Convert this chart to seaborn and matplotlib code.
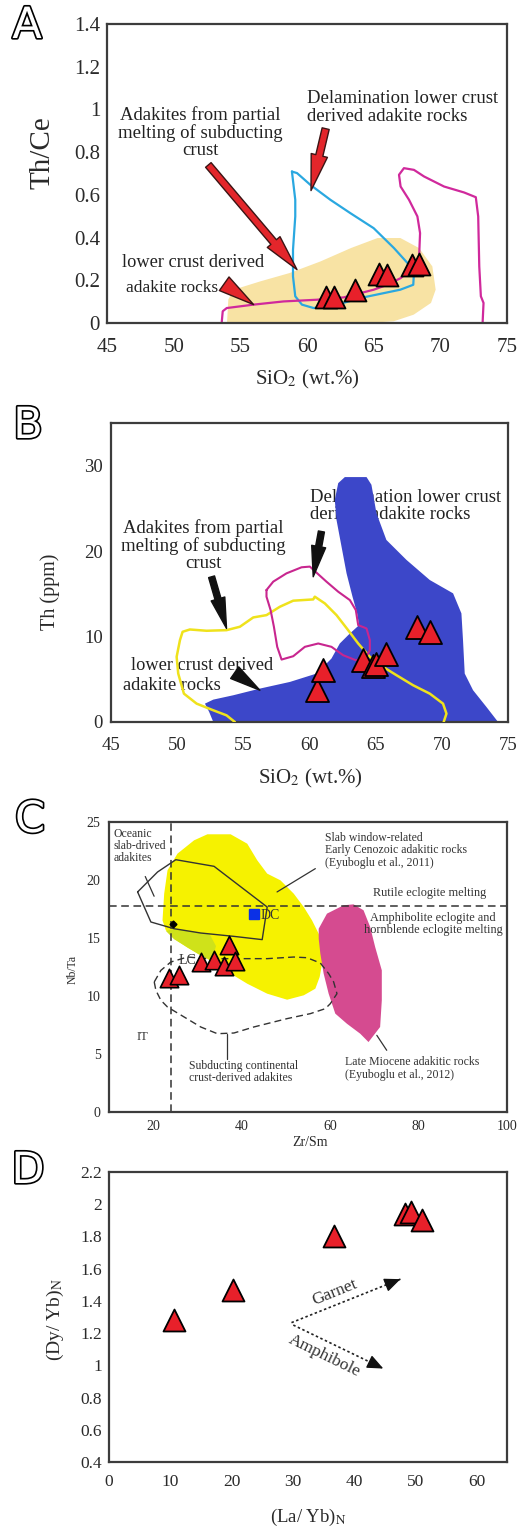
import matplotlib
matplotlib.use("Agg")
import matplotlib.pyplot as plt
import seaborn as sns
from matplotlib import patheffects
from matplotlib.ticker import FuncFormatter, FixedLocator

# ---------------- data ----------------
# A: Th/Ce vs SiO2
a_sio2 = [61.4, 62.0, 63.6, 65.4, 66.0, 67.9, 68.4]
a_thce = [0.122, 0.12, 0.153, 0.23, 0.225, 0.273, 0.274]
a_tan_field = [(54.0, 0.0), (54.1, 0.11), (54.5, 0.156), (56.5, 0.195), (58.7, 0.234),
               (61.0, 0.288), (63.3, 0.351), (65.3, 0.398), (67.0, 0.398), (68.4, 0.351),
               (69.4, 0.265), (69.65, 0.156), (69.3, 0.094), (68.0, 0.039), (66.5, 0.008),
               (64.5, 0.0)]
a_blue_outline = [(58.87, 0.709), (59.12, 0.577), (59.12, 0.499), (58.95, 0.343), (58.95, 0.218),
                  (59.12, 0.125), (59.62, 0.086), (60.5, 0.07), (62.0, 0.081), (64.0, 0.117),
                  (65.77, 0.14), (67.0, 0.156), (67.97, 0.179), (68.02, 0.234), (67.65, 0.273),
                  (66.52, 0.351), (65.0, 0.444), (63.26, 0.514), (61.75, 0.577), (60.25, 0.647),
                  (59.25, 0.702), (58.87, 0.709)]
a_magenta_outline = [(53.6, 0.0), (53.68, 0.055), (53.98, 0.07), (55.99, 0.086), (58.24, 0.101),
                     (60.75, 0.109), (62.76, 0.12), (64.01, 0.14), (65.01, 0.156), (66.02, 0.179),
                     (67.02, 0.21), (67.77, 0.249), (68.4, 0.296), (68.48, 0.421), (68.28, 0.499),
                     (67.65, 0.577), (67.02, 0.639), (66.9, 0.694), (67.27, 0.725), (68.02, 0.717),
                     (68.78, 0.686), (70.28, 0.639), (71.79, 0.611), (72.66, 0.589), (72.84, 0.499),
                     (72.92, 0.265), (73.04, 0.125), (73.24, 0.094), (73.17, 0.0)]
a_arrows = [((61.4, 0.91), (60.3, 0.62)), ((52.6, 0.74), (59.25, 0.25)), ((54.1, 0.17), (56.0, 0.086))]

# B: Th vs SiO2
b_sio2 = [60.6, 61.0, 64.05, 64.8, 65.06, 65.8, 68.1, 69.1]
b_th = [3.7, 6.1, 7.27, 6.5, 6.77, 7.98, 11.07, 10.56]
b_blue_field = [(52.1, 2.15), (52.73, 2.62), (54.24, 3.13), (56.25, 3.91), (58.52, 4.69),
                (60.53, 5.67), (61.66, 7.43), (62.29, 9.19), (63.05, 10.36), (63.75, 11.34),
                (63.6, 12.71), (63.25, 14.67), (62.8, 17.4), (62.42, 20.53), (62.04, 23.66),
                (61.91, 26.0), (62.17, 27.96), (62.67, 28.67), (64.31, 28.67), (64.68, 27.77),
                (65.06, 24.44), (65.81, 21.31), (67.33, 18.97), (69.09, 16.62), (70.85, 15.06),
                (71.48, 12.71), (71.6, 9.58), (71.73, 5.67), (72.36, 3.72), (73.37, 1.76),
                (74.25, 0.0), (52.73, 0.0), (52.42, 1.17)]
b_yellow_outline = [(54.36, 0.0), (53.73, 0.78), (52.73, 1.37), (51.47, 2.15), (50.51, 3.32),
                    (50.08, 5.67), (49.96, 7.63), (50.21, 9.58), (50.41, 10.56), (50.96, 10.83),
                    (52.22, 10.68), (53.73, 10.75), (54.74, 11.15), (55.75, 12.24), (56.75, 12.51),
                    (57.76, 13.49), (58.77, 14.2), (60.28, 14.35), (60.4, 14.67), (61.16, 13.88),
                    (62.04, 12.51), (62.92, 10.75), (63.68, 9.19), (64.56, 7.63), (65.56, 6.45),
                    (66.57, 5.48), (67.83, 4.3), (69.09, 3.32), (70.09, 2.15), (70.35, 0.98),
                    (70.14, 0.0)]
b_magenta_outline = [(56.75, 15.45), (57.26, 16.43), (58.26, 17.4), (59.4, 18.11), (60.03, 18.19),
                     (60.53, 17.48), (61.28, 16.43), (62.17, 15.25), (63.05, 14.27), (63.5, 13.1),
                     (63.68, 11.34), (64.31, 10.95), (64.56, 9.58), (64.56, 8.41), (64.26, 7.55),
                     (63.5, 7.23), (62.54, 7.82), (61.66, 8.8), (60.66, 9.19), (59.65, 8.8),
                     (58.77, 7.7), (57.89, 7.31), (57.56, 8.8), (57.31, 11.15), (57.06, 13.1),
                     (56.75, 14.67), (56.75, 15.45)]
b_arrows = [((60.9, 22.3), (60.28, 17.0)), ((52.6, 17.0), (53.73, 10.95)), ((54.6, 5.5), (56.25, 3.72))]

# C: Nb/Ta vs Zr/Sm
c_zrsm = [23.6, 25.9, 30.7, 33.8, 36.0, 37.1, 38.6]
c_nbta = [11.58, 11.8, 12.93, 13.07, 12.6, 14.37, 13.0]
c_yellow_field = [(22.1, 16.52), (22.48, 18.82), (23.23, 20.83), (25.48, 22.27), (29.24, 23.42),
                  (32.25, 23.94), (37.51, 23.94), (41.26, 23.13), (43.52, 21.7), (45.77, 20.55),
                  (48.78, 19.97), (51.78, 18.82), (54.04, 17.67), (55.91, 16.52), (57.42, 15.37),
                  (58.39, 14.08), (58.17, 12.79), (57.64, 11.64), (56.66, 10.63), (54.04, 10.06),
                  (50.28, 9.68), (45.77, 10.2), (41.26, 11.06), (37.51, 11.93), (34.5, 12.73),
                  (30.74, 13.51), (27.74, 14.17), (24.73, 14.94), (22.86, 15.66)]
c_green_patch = [(22.9, 15.6), (24.7, 14.9), (27.7, 14.2), (30.7, 13.5), (33.2, 13.1),
                 (34.2, 14.3), (32.8, 15.3), (30.7, 15.45), (24.7, 15.8)]
c_magenta_field = [(57.42, 15.8), (59.29, 17.1), (63.05, 17.82), (65.3, 17.9), (67.56, 17.39),
                   (69.06, 15.95), (70.19, 14.22), (71.69, 12.21), (71.69, 9.63), (71.31, 7.33),
                   (68.68, 6.03), (66.81, 6.75), (63.8, 7.61), (61.17, 8.48), (59.67, 10.2),
                   (58.54, 11.93), (57.79, 13.65), (57.42, 14.94)]
c_oceanic_outline = [(16.47, 18.97), (20.98, 20.69), (25.11, 21.75), (33.75, 21.18), (45.77, 17.67),
                     (44.64, 14.86), (38.26, 15.14), (30.74, 15.43), (24.73, 15.8), (19.47, 16.38),
                     (16.47, 18.97)]
c_continental_outline = [(20.23, 11.21), (21.73, 12.21), (23.98, 12.93), (27.74, 13.36), (32.25, 13.22),
                         (38.26, 13.22), (45.77, 13.22), (51.78, 13.36), (54.79, 13.3), (57.79, 12.84),
                         (59.67, 11.93), (60.8, 11.21), (61.55, 10.2), (60.05, 9.34), (58.92, 8.91),
                         (55.54, 8.48), (50.28, 8.05), (42.76, 7.33), (38.26, 6.81), (34.5, 6.75),
                         (30.74, 7.33), (26.99, 8.19), (23.23, 9.05), (21.73, 9.63), (20.6, 10.49),
                         (20.23, 11.21)]
c_pointers = [((18.2, 20.3), (20.2, 18.6)), ((48.0, 18.97), (56.66, 20.98)),
              ((36.75, 6.75), (36.75, 4.6)), ((70.56, 6.61), (72.8, 5.32))]
c_rutile_line = 17.8
c_it_line = 24.1
c_dc_point = (42.8, 17.1)
c_black_point = (24.4, 16.2)

# D: (Dy/Yb)N vs (La/Yb)N
d_layb = [10.6, 20.3, 36.8, 48.4, 49.3, 51.1]
d_dyyb = [1.28, 1.47, 1.80, 1.94, 1.95, 1.90]
d_garnet_vector = ((29.8, 1.265), (47.6, 1.535))
d_amphibole_vector = ((30.1, 1.25), (44.8, 0.98))

# ---------------- style ----------------
sns.set_theme(style="white")
plt.rcParams['font.family'] = ['Liberation Serif', 'DejaVu Serif']
plt.rcParams['mathtext.fontset'] = 'stix'

W, H = 520, 1526
fig = plt.figure(figsize=(W / 100, H / 100), dpi=100)
fig.patch.set_facecolor('white')

TRI = '#e8202a'
INK = '#2a2a2a'


def axes_px(left, top, right, bottom):
    return fig.add_axes([left / W, 1 - bottom / H, (right - left) / W, (bottom - top) / H])


def fig_text(px, py, s, **kw):
    fig.text(px / W, 1 - py / H, s, ha='center', va='center', **kw)


def style_axes(ax, size, pad_x, pad_y):
    for sp in ax.spines.values():
        sp.set_color('#3c3c3c')
        sp.set_linewidth(1.6)
    ax.tick_params(direction='in', length=5, width=1.2, color='#3c3c3c',
                   labelsize=size, labelcolor=INK, top=False, right=False)
    ax.tick_params(axis='x', pad=pad_x)
    ax.tick_params(axis='y', pad=pad_y)
    ax.tick_params(which='minor', direction='in', length=5, width=1.2, color='#3c3c3c')
    ax.yaxis.set_major_formatter(FuncFormatter(lambda v, p: f"{v:g}"))
    ax.set_xlabel('')
    ax.set_ylabel('')


def xy(points):
    return [p[0] for p in points], [p[1] for p in points]


def fat_arrow(ax, tail, tip, fc, ec, scale):
    ax.annotate("", xy=tip, xytext=tail, zorder=4,
                arrowprops=dict(arrowstyle="simple,head_length=1.3,head_width=0.6,tail_width=0.26",
                                fc=fc, ec=ec, lw=1.0, mutation_scale=scale,
                                shrinkA=0, shrinkB=0))


def panel_letter(px, py, s):
    fig.text(px / W, 1 - py / H, s, ha='center', va='center', fontsize=31,
             family='DejaVu Sans', color='white',
             path_effects=[patheffects.withStroke(linewidth=2.4, foreground='black')])


# ---------------- A ----------------
ax = axes_px(107, 24, 507, 323)
x, y = xy(a_tan_field)
ax.fill(x, y, color='#f8e3a4', lw=0, zorder=1)
x, y = xy(a_blue_outline)
ax.plot(x, y, color='#2aa8e0', lw=1.6, zorder=2)
x, y = xy(a_magenta_outline)
ax.plot(x, y, color='#d0299c', lw=1.6, zorder=2)
for tail, tip in a_arrows:
    fat_arrow(ax, tail, tip, '#e3262b', '#3a1414', 20)
sns.scatterplot(x=a_sio2, y=a_thce, marker='^', s=250, color=TRI, edgecolor='black',
                linewidth=1.3, ax=ax, zorder=5)
ax.text(60.0, 1.01, "Delamination lower crust\nderived adakite rocks", fontsize=13.5,
        ha='left', va='center', color='#222', linespacing=1.05)
ax.text(52.0, 0.89, "Adakites from partial\nmelting of subducting\ncrust", fontsize=13.5,
        ha='center', va='center', color='#222', linespacing=1.0)
ax.text(46.1, 0.281, "lower crust derived", fontsize=13.2, ha='left', va='center', color='#222')
ax.text(46.4, 0.164, "adakite rocks", fontsize=12.5, ha='left', va='center', color='#222')
ax.set_xlim(45, 75)
ax.set_ylim(0, 1.4)
ax.set_xticks(range(45, 76, 5))
ax.set_yticks([0, 0.2, 0.4, 0.6, 0.8, 1.0, 1.2, 1.4])
style_axes(ax, 15, 11, 5)
fig_text(42, 153, "Th/Ce", fontsize=21, rotation=90, color=INK)
fig_text(307, 379, "SiO$_2$ (wt.%)", fontsize=15, color=INK)
panel_letter(27, 26, "A")

# ---------------- B ----------------
ax = axes_px(111, 423, 508, 722)
ax.text(60.03, 25.3, "Delamination lower crust\nderived adakite rocks", fontsize=13.5,
        ha='left', va='center', color='#222', linespacing=1.05, zorder=1)
ax.text(52.0, 20.7, "Adakites from partial\nmelting of subducting\ncrust", fontsize=13.5,
        ha='center', va='center', color='#222', linespacing=1.0, zorder=1)
ax.text(51.85, 6.65, "lower crust derived", fontsize=13.2, ha='center', va='center',
        color='#222', zorder=1)
ax.text(49.6, 4.3, "adakite rocks", fontsize=13.2, ha='center', va='center', color='#222', zorder=1)
x, y = xy(b_blue_field)
ax.fill(x, y, color='#3c47c9', lw=0, zorder=2)
x, y = xy(b_yellow_outline)
ax.plot(x, y, color='#efe21c', lw=1.8, zorder=3)
x, y = xy(b_magenta_outline)
ax.plot(x, y, color='#c8268f', lw=1.5, zorder=3)
for tail, tip in b_arrows:
    fat_arrow(ax, tail, tip, '#111111', '#111111', 17)
sns.scatterplot(x=b_sio2, y=b_th, marker='^', s=275, color=TRI, edgecolor='black',
                linewidth=1.3, ax=ax, zorder=5)
ax.set_xlim(45, 75)
ax.set_ylim(0, 35)
ax.set_xticks(range(45, 76, 5))
ax.yaxis.set_major_locator(FixedLocator([0, 10, 20, 30]))
ax.yaxis.set_minor_locator(FixedLocator([5, 15, 25]))
style_axes(ax, 13.5, 11, 6)
fig_text(50, 592, "Th (ppm)", fontsize=14.5, rotation=90, color=INK)
fig_text(310, 778, "SiO$_2$ (wt.%)", fontsize=15, color=INK)
panel_letter(28, 426, "B")

# ---------------- C ----------------
ax = axes_px(109, 822, 507, 1112)
x, y = xy(c_yellow_field)
ax.fill(x, y, color='#f6f200', lw=0, zorder=1)
x, y = xy(c_green_patch)
ax.fill(x, y, color='#cfe21a', lw=0, zorder=1)
x, y = xy(c_magenta_field)
ax.fill(x, y, color='#d54b90', lw=0, zorder=1)
x, y = xy(c_oceanic_outline)
ax.plot(x, y, color='#333', lw=1.0, zorder=2)
x, y = xy(c_continental_outline)
ax.plot(x, y, color='#333', lw=1.0, ls=(0, (5, 3)), zorder=2)
for (x0, y0), (x1, y1) in c_pointers:
    ax.plot([x0, x1], [y0, y1], color='#333', lw=0.9, zorder=2)
ax.axhline(c_rutile_line, color='#333', lw=1.1, ls=(0, (5, 3)), zorder=2)
ax.axvline(c_it_line, color='#333', lw=1.1, ls=(0, (5, 3)), zorder=2)
ax.plot(*c_dc_point, marker='s', ms=7, color='#0b30e6', zorder=3)
ax.plot(*c_black_point, marker='D', ms=3.5, color='black', zorder=3)
ax.text(44.3, 16.9, "DC", fontsize=10, ha='left', va='center', color='#333')
ax.text(25.8, 13.1, "LC", fontsize=10, ha='left', va='center', color='#333')
sns.scatterplot(x=c_zrsm, y=c_nbta, marker='^', s=175, color=TRI, edgecolor='black',
                linewidth=1.2, ax=ax, zorder=5)
ax.text(11.1, 22.9, "Oceanic\nslab-drived\nadakites", fontsize=8.5, ha='left', va='center',
        color='#333', linespacing=1.0)
ax.text(58.9, 22.55, "Slab window-related\nEarly Cenozoic adakitic rocks\n(Eyuboglu et al., 2011)",
        fontsize=8.5, ha='left', va='center', color='#333', linespacing=1.05)
ax.text(69.8, 18.85, "Rutile eclogite melting", fontsize=8.8, ha='left', va='center', color='#333')
ax.text(83.3, 16.2, "Amphibolite eclogite and\nhornblende eclogite melting", fontsize=8.8,
        ha='center', va='center', color='#333', linespacing=1.0)
ax.text(17.6, 6.45, "IT", fontsize=9, ha='center', va='center', color='#333')
ax.text(28.1, 3.45, "Subducting continental\ncrust-derived adakites", fontsize=8.5,
        ha='left', va='center', color='#333', linespacing=1.05)
ax.text(63.4, 3.75, "Late Miocene adakitic rocks\n(Eyuboglu et al., 2012)", fontsize=8.5,
        ha='left', va='center', color='#333', linespacing=1.05)
ax.set_xlim(10, 100)
ax.set_ylim(0, 25)
ax.set_xticks([20, 40, 60, 80, 100])
ax.set_yticks([0, 5, 10, 15, 20, 25])
style_axes(ax, 10, 6, 6)
fig_text(73, 969, "Nb/Ta", fontsize=8.5, rotation=90, color=INK)
fig_text(310, 1142, "Zr/Sm", fontsize=10, color=INK)
panel_letter(30, 820, "C")

# ---------------- D ----------------
ax = axes_px(109, 1172, 507, 1462)
sns.scatterplot(x=d_layb, y=d_dyyb, marker='^', s=250, color=TRI, edgecolor='black',
                linewidth=1.3, ax=ax, zorder=5)
for (x0, y0), (x1, y1) in (d_garnet_vector, d_amphibole_vector):
    ax.plot([x0, x1], [y0, y1], color='#222', lw=1.2, ls=(0, (1.5, 1.5)), zorder=3)
    ax.annotate("", xy=(x1, y1), xytext=(x1 - 0.08 * (x1 - x0), y1 - 0.08 * (y1 - y0)),
                arrowprops=dict(arrowstyle="-|>,head_length=0.7,head_width=0.3",
                                color='#111', lw=1.0, mutation_scale=14,
                                shrinkA=0, shrinkB=0), zorder=3)
ax.text(36.9, 1.45, "Garnet", fontsize=12.5, rotation=22, ha='center', va='center', color='#333')
ax.text(35.2, 1.06, "Amphibole", fontsize=12.5, rotation=-26, ha='center', va='center', color='#333')
ax.set_xlim(0, 65)
ax.set_ylim(0.4, 2.2)
ax.set_xticks(range(0, 61, 10))
ax.set_yticks([0.4, 0.6, 0.8, 1.0, 1.2, 1.4, 1.6, 1.8, 2.0, 2.2])
style_axes(ax, 12.5, 9, 5)
fig_text(55, 1320, "(Dy/ Yb)$_\\mathrm{N}$", fontsize=14, rotation=90, color=INK)
fig_text(308, 1517, "(La/ Yb)$_\\mathrm{N}$", fontsize=13.5, color=INK)
panel_letter(28, 1171, "D")

fig.savefig("out.png", dpi=100, facecolor='white')
